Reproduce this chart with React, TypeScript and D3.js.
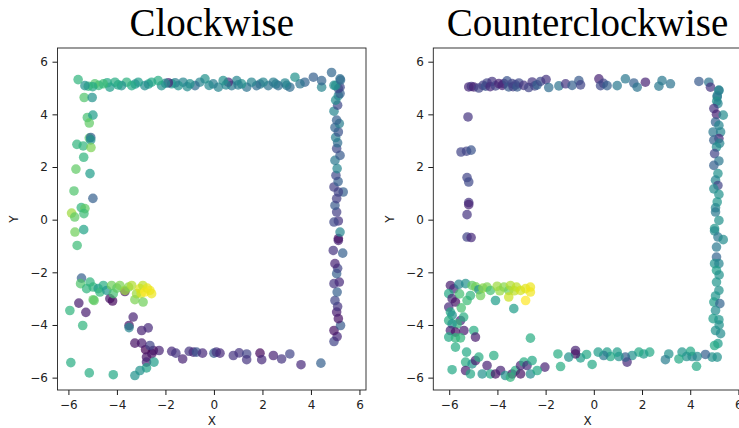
import React, { useEffect, useRef } from "react";
import * as d3 from "d3";

// each point: [x, y, colour value 0..1 on viridis]
const cwInner = [
  [-2.26, -4.97, 0.1], [-2.5, -4.97, 0.05], [-2.56, -5.09, 0.05], [-2.82, -4.94, 0.0],
  [-2.78, -5.22, 0.05], [-2.78, -5.41, 0.1], [-2.64, -4.78, 0.2], [-2.98, -4.69, 0.08],
  [-3.26, -4.69, 0.05], [-2.98, -4.21, 0.1], [-2.71, -4.11, 0.12], [-3.5, -4.02, 0.05],
  [-3.5, -4.1, 0.45], [-3.33, -3.7, 0.1],
  [-4.29, -3.0, 0.05], [-4.18, -3.09, 0.02], [-3.67, -2.73, 0.05], [-5.57, -3.17, 0.08],
  [-5.28, -3.52, 0.08],
];

const cwBottom = [
  [-1.74, -5.0, 0.12], [-1.57, -5.07, 0.15], [-1.29, -5.29, 0.1], [-1.02, -5.0, 0.15],
  [-0.85, -5.03, 0.12], [-0.72, -5.03, 0.25], [-0.47, -5.07, 0.12], [0.0, -5.07, 0.28],
  [0.1, -5.03, 0.15], [0.25, -5.07, 0.12], [0.8, -5.16, 0.15], [1.04, -5.06, 0.15],
  [1.35, -5.1, 0.2], [1.35, -5.32, 0.15], [1.9, -5.07, 0.02], [1.97, -5.32, 0.12],
  [2.45, -5.16, 0.1], [2.79, -5.29, 0.15], [3.13, -5.1, 0.2], [3.59, -5.51, 0.12],
  [4.41, -5.45, 0.3],
];

const cwRight = [
  [4.95, -4.63, 0.2], [5.08, -4.44, 0.12], [4.95, -4.21, 0.05], [5.22, -4.02, 0.28],
  [5.13, -3.76, 0.05], [5.06, -3.51, 0.08], [5.1, -3.3, 0.15], [4.99, -3.07, 0.2],
  [5.08, -2.75, 0.3], [4.95, -2.43, 0.15], [5.17, -2.37, 0.12], [5.06, -2.05, 0.3],
  [5.1, -1.85, 0.2], [4.99, -1.67, 0.1], [5.31, -1.27, 0.3], [4.92, -1.17, 0.15],
  [5.13, -0.79, 0.1], [5.13, -0.72, 0.05], [5.2, -0.47, 0.45], [5.13, -0.05, 0.15],
  [4.95, -0.09, 0.22], [5.06, 0.29, 0.18], [4.99, 0.54, 0.28], [5.06, 0.8, 0.18],
  [5.33, 1.05, 0.3], [5.13, 1.05, 0.2], [4.95, 1.24, 0.18], [5.12, 1.45, 0.3],
  [5.03, 1.68, 0.22], [5.08, 1.94, 0.45], [4.99, 2.25, 0.4], [5.2, 2.44, 0.28],
  [5.06, 2.7, 0.22], [5.1, 2.92, 0.35], [5.02, 3.12, 0.42], [5.13, 3.33, 0.25],
  [4.99, 3.5, 0.32], [5.17, 3.65, 0.42], [5.06, 3.78, 0.3], [4.95, 4.12, 0.45],
  [5.1, 4.35, 0.22], [5.02, 4.54, 0.48], [5.13, 4.71, 0.45], [5.2, 4.79, 0.3],
  [5.13, 4.98, 0.22], [5.2, 5.03, 0.22], [4.95, 5.1, 0.48], [5.02, 5.09, 0.5],
  [5.22, 5.3, 0.35], [5.2, 5.35, 0.35], [4.85, 5.59, 0.33],
];

const cwTop = [
  [4.44, 5.03, 0.45], [4.44, 5.28, 0.32], [4.1, 5.41, 0.3], [3.75, 5.22, 0.32],
  [3.55, 5.16, 0.38], [3.34, 5.41, 0.5], [3.13, 5.03, 0.35], [3.0, 5.1, 0.4],
  [2.93, 5.19, 0.45], [2.65, 5.09, 0.35], [2.55, 5.15, 0.4], [2.45, 5.22, 0.42],
  [2.24, 5.09, 0.38], [2.03, 5.22, 0.45], [1.9, 5.15, 0.42], [1.76, 5.09, 0.35],
  [1.55, 5.22, 0.45], [1.35, 5.03, 0.38], [1.14, 5.16, 0.5], [1.0, 5.12, 0.42],
  [0.94, 5.28, 0.45], [0.73, 5.09, 0.4], [0.59, 5.22, 0.1], [0.5, 5.12, 0.46],
  [0.38, 5.28, 0.5], [0.18, 5.03, 0.45], [-0.03, 5.16, 0.42], [-0.2, 5.1, 0.47],
  [-0.37, 5.35, 0.5], [-0.58, 5.22, 0.45], [-0.78, 5.09, 0.35], [-0.99, 5.16, 0.5],
  [-1.1, 5.05, 0.48], [-1.27, 5.22, 0.45], [-1.47, 5.09, 0.5], [-1.6, 5.2, 0.42],
  [-1.74, 5.16, 0.52], [-1.88, 5.2, 0.1], [-2.0, 5.18, 0.48], [-2.16, 5.09, 0.5],
  [-2.3, 5.28, 0.62], [-2.57, 5.22, 0.6], [-2.7, 5.15, 0.55], [-2.85, 5.09, 0.48],
  [-3.12, 5.22, 0.55], [-3.25, 5.15, 0.52], [-3.39, 5.09, 0.6], [-3.6, 5.22, 0.64],
  [-3.81, 5.09, 0.5], [-3.95, 5.12, 0.58], [-4.08, 5.22, 0.62], [-4.29, 5.03, 0.55],
  [-4.4, 5.2, 0.6], [-4.56, 5.16, 0.68], [-4.75, 5.1, 0.66], [-4.91, 5.16, 0.72],
  [-5.0, 5.05, 0.6], [-5.18, 5.07, 0.65], [-5.32, 5.09, 0.5], [-5.6, 5.32, 0.65],
];

const cwLeft = [
  [-5.35, 4.64, 0.72], [-5.02, 4.64, 0.5], [-5.22, 3.88, 0.7], [-4.99, 3.97, 0.55],
  [-5.14, 3.67, 0.75], [-5.65, 2.86, 0.65], [-5.39, 2.8, 0.65], [-5.14, 3.1, 0.72],
  [-5.08, 3.12, 0.3], [-5.08, 3.03, 0.5], [-5.07, 2.74, 0.8], [-5.37, 2.37, 0.65],
  [-5.69, 1.92, 0.75], [-5.11, 1.75, 0.55], [-5.77, 1.09, 0.72], [-4.99, 0.81, 0.3],
  [-5.87, 0.25, 0.85], [-5.74, 0.1, 0.75], [-5.47, 0.46, 0.65], [-5.32, 0.42, 0.75],
  [-5.36, 0.23, 0.68], [-5.73, -0.47, 0.78], [-5.37, -0.38, 0.58], [-5.64, -0.98, 0.68],
  [-5.94, -3.45, 0.65], [-5.41, -4.02, 0.65],
  [-2.47, -5.41, 0.55], [-2.78, -5.63, 0.58], [-3.05, -5.73, 0.5], [-3.26, -5.92, 0.5],
  [-4.15, -5.89, 0.6], [-5.14, -5.82, 0.62], [-5.9, -5.43, 0.62],
];

const cwBand = [
  [-5.46, -2.22, 0.3], [-5.5, -2.43, 0.72], [-5.11, -2.37, 0.65], [-5.25, -2.62, 0.65],
  [-4.98, -2.56, 0.65], [-4.94, -3.07, 0.75], [-4.98, -3.04, 0.75], [-4.77, -2.62, 0.55],
  [-4.7, -2.75, 0.66], [-4.56, -2.5, 0.62], [-4.42, -2.69, 0.52], [-4.22, -2.5, 0.78],
  [-4.15, -2.81, 0.7], [-4.0, -2.6, 0.75], [-3.88, -2.5, 0.8], [-3.67, -2.69, 0.85],
  [-3.52, -2.56, 0.82], [-3.39, -2.5, 0.88], [-3.26, -3.04, 0.8], [-3.19, -2.81, 0.85],
  [-3.05, -2.62, 0.95], [-3.0, -2.8, 0.93], [-2.93, -2.5, 0.9], [-2.92, -3.13, 0.78],
  [-2.85, -2.75, 1.0], [-2.75, -2.6, 0.96], [-2.64, -2.69, 0.98], [-2.57, -2.81, 0.97],
];

const ccwLeft = [
  [-5.22, 3.9, 0.15], [-5.51, 2.57, 0.2], [-5.28, 2.6, 0.2], [-5.09, 2.64, 0.25],
  [-5.26, 1.6, 0.2], [-5.19, 1.43, 0.22], [-5.19, 0.65, 0.15], [-5.19, 0.57, 0.1],
  [-5.26, 0.19, 0.15], [-5.26, -0.66, 0.2], [-5.09, -0.68, 0.12],
];

const ccwTop = [
  [-5.19, 5.04, 0.12], [-5.08, 5.06, 0.15], [-4.98, 5.04, 0.1], [-4.77, 5.0, 0.2],
  [-4.6, 5.1, 0.18], [-4.49, 5.07, 0.25], [-4.43, 5.19, 0.2], [-4.3, 5.05, 0.12],
  [-4.22, 5.25, 0.15], [-4.08, 5.08, 0.2], [-3.94, 5.17, 0.1], [-3.8, 5.1, 0.1],
  [-3.73, 5.17, 0.12], [-3.6, 5.27, 0.25], [-3.53, 5.04, 0.28], [-3.39, 5.17, 0.2],
  [-3.35, 5.05, 0.18], [-3.25, 5.12, 0.2], [-3.18, 5.04, 0.28], [-3.11, 5.19, 0.22],
  [-2.91, 5.1, 0.15], [-2.7, 5.02, 0.2], [-2.56, 5.23, 0.15], [-2.45, 5.08, 0.2],
  [-2.35, 5.12, 0.3], [-2.21, 5.25, 0.22], [-1.98, 5.32, 0.15], [-1.87, 5.02, 0.35],
  [-1.45, 5.08, 0.38], [-1.17, 5.16, 0.15], [-0.9, 5.1, 0.3], [-0.62, 5.28, 0.28],
  [-0.55, 5.12, 0.2], [0.21, 5.35, 0.1], [0.28, 5.09, 0.22], [0.4, 5.18, 0.2],
  [0.55, 5.09, 0.3], [0.97, 5.09, 0.4], [1.31, 5.35, 0.4], [1.66, 5.19, 0.3],
  [1.8, 5.03, 0.38], [2.14, 5.22, 0.1], [2.7, 5.07, 0.4], [2.83, 5.28, 0.4],
  [3.18, 5.16, 0.38], [4.36, 5.25, 0.28], [4.77, 5.22, 0.38], [4.84, 5.03, 0.15],
];

const ccwRight = [
  [5.19, 4.92, 0.45], [5.19, 4.9, 0.42], [5.12, 4.71, 0.45], [5.12, 4.66, 0.4],
  [5.1, 4.5, 0.5], [5.15, 4.41, 0.45], [4.98, 4.22, 0.15], [5.09, 4.0, 0.1],
  [5.37, 3.97, 0.48], [5.05, 3.71, 0.3], [5.19, 3.58, 0.45], [5.26, 3.33, 0.45],
  [4.95, 3.33, 0.4], [5.19, 3.08, 0.12], [4.98, 3.02, 0.3], [5.22, 2.9, 0.45],
  [5.09, 2.76, 0.48], [5.01, 2.51, 0.2], [5.19, 2.23, 0.4], [4.98, 2.06, 0.3],
  [5.15, 1.75, 0.5], [5.05, 1.5, 0.45], [5.15, 1.3, 0.2], [4.98, 1.17, 0.48],
  [5.19, 0.96, 0.5], [5.12, 0.67, 0.52], [5.05, 0.45, 0.45], [5.05, 0.29, 0.4],
  [5.19, -0.03, 0.5], [5.01, -0.34, 0.52], [5.01, -0.43, 0.48], [5.15, -0.66, 0.4],
  [5.37, -0.76, 0.48], [5.09, -1.04, 0.4], [5.09, -1.42, 0.32], [5.01, -1.67, 0.5],
  [5.19, -1.67, 0.45], [5.09, -1.93, 0.55], [5.2, -2.1, 0.5], [5.09, -2.37, 0.52],
  [5.19, -2.69, 0.5], [5.05, -2.9, 0.52], [4.98, -3.13, 0.55], [5.23, -3.19, 0.32],
  [5.05, -3.45, 0.48], [4.95, -3.76, 0.55], [5.19, -3.8, 0.52], [5.2, -4.0, 0.5],
  [5.05, -4.21, 0.5], [5.26, -4.33, 0.48], [5.15, -4.71, 0.55], [5.01, -4.78, 0.6],
];

const ccwBottom = [
  [5.12, -5.22, 0.5], [4.91, -5.22, 0.5], [4.63, -5.12, 0.3], [4.26, -5.57, 0.6],
  [4.29, -5.2, 0.48], [4.08, -5.2, 0.45], [4.01, -5.0, 0.6], [3.85, -5.2, 0.5],
  [3.66, -5.03, 0.52], [3.53, -5.29, 0.6], [3.11, -5.1, 0.5], [2.97, -5.32, 0.42],
  [2.32, -5.03, 0.6], [2.07, -5.1, 0.55], [1.87, -5.03, 0.6], [1.59, -5.16, 0.5],
  [1.38, -5.41, 0.12], [1.31, -5.22, 0.3], [1.04, -5.2, 0.5], [0.97, -5.03, 0.55],
  [0.69, -5.2, 0.6], [0.55, -5.03, 0.55], [0.41, -5.16, 0.4], [0.18, -5.03, 0.55],
  [-0.07, -5.5, 0.6], [-0.3, -5.12, 0.6], [-0.55, -5.25, 0.55], [-0.76, -4.97, 0.1],
  [-0.76, -5.1, 0.05], [-1.04, -5.22, 0.5], [-1.38, -5.58, 0.62], [-1.49, -5.1, 0.62],
  [-2.03, -5.6, 0.1],
];

const ccwCluster = [
  [-5.95, -2.5, 0.08], [-5.81, -2.63, 0.12], [-6.02, -2.81, 0.6], [-5.88, -3.0, 0.1],
  [-5.74, -3.13, 0.05], [-6.02, -3.32, 0.12], [-5.95, -3.51, 0.6], [-5.88, -3.63, 0.5],
  [-6.02, -3.83, 0.62], [-5.53, -3.83, 0.1], [-5.67, -3.96, 0.65], [-5.88, -3.96, 0.5],
  [-5.95, -4.21, 0.1], [-5.74, -4.27, 0.05], [-5.39, -4.21, 0.08], [-6.02, -4.46, 0.6],
  [-5.74, -4.49, 0.65], [-5.53, -4.49, 0.66], [-4.98, -4.21, 0.62], [-4.91, -4.46, 0.08],
  [-5.74, -4.84, 0.62], [-5.28, -5.03, 0.6], [-5.32, -5.41, 0.62], [-5.05, -5.48, 0.5],
  [-5.32, -5.73, 0.08], [-5.12, -5.86, 0.6], [-5.88, -5.7, 0.6], [-4.91, -5.35, 0.08],
  [-4.77, -5.22, 0.62], [-4.63, -5.86, 0.5], [-4.43, -5.54, 0.1], [-4.15, -5.16, 0.62],
  [-4.29, -5.86, 0.6], [-4.08, -5.86, 0.05], [-3.87, -5.73, 0.1], [-3.67, -5.92, 0.5],
  [-3.39, -5.86, 0.05], [-3.25, -5.73, 0.62], [-3.04, -5.54, 0.1], [-2.9, -5.41, 0.62],
  [-2.77, -5.54, 0.12], [-2.56, -5.35, 0.6], [-2.63, -5.86, 0.48], [-2.35, -5.73, 0.6],
  [-3.04, -5.86, 0.05], [-3.46, -5.98, 0.65], [-2.63, -4.5, 0.62], [-5.57, -2.82, 0.7],
  [-5.26, -3.07, 0.68], [-5.12, -2.88, 0.65], [-5.5, -3.35, 0.7], [-5.4, -3.7, 0.62],
];

const ccwBand = [
  [-5.32, -2.43, 0.5], [-5.6, -2.46, 0.45], [-5.05, -2.5, 0.75], [-4.9, -2.55, 0.78],
  [-4.77, -2.66, 0.5], [-4.7, -2.88, 0.78], [-4.6, -2.6, 0.82], [-4.43, -2.56, 0.8],
  [-4.29, -2.69, 0.7], [-4.08, -3.07, 0.55], [-4.01, -2.53, 0.85], [-3.9, -2.7, 0.84],
  [-3.73, -2.56, 0.82], [-3.53, -2.69, 0.78], [-3.46, -2.5, 0.88], [-3.32, -3.38, 0.55],
  [-3.3, -2.7, 0.9], [-3.21, -2.56, 0.9], [-3.53, -2.94, 0.92], [-3.04, -2.69, 0.93],
  [-2.83, -2.62, 0.95], [-2.63, -2.56, 0.97], [-2.63, -2.75, 0.98], [-2.83, -3.07, 1.0],
];

const tickValues = [-6, -4, -2, 0, 2, 4, 6];

const panels = [
  {
    title: "Clockwise",
    groups: [cwInner, cwBottom, cwRight, cwTop, cwLeft, cwBand],
    left: 57.5,
    xDomain: [-6.45, 6.27],
  },
  {
    title: "Counterclockwise",
    groups: [ccwLeft, ccwTop, ccwRight, ccwBottom, ccwCluster, ccwBand],
    left: 433.3,
    xDomain: [-6.66, 6.14],
  },
];

const App = () => {
  const svgRef = useRef<SVGSVGElement>(null);

  useEffect(() => {
    const plotW = 308.5;
    const top = 48;
    const bottom = 390;
    const color = d3.scaleSequential(d3.interpolateViridis).domain([0, 1]);

    const svg = d3.select(svgRef.current);
    svg.selectAll("*").remove();

    panels.forEach((p, i) => {
      const xScale = d3
        .scaleLinear()
        .domain(p.xDomain)
        .range([p.left, p.left + plotW]);
      const yScale = d3.scaleLinear().domain([-6.47, 6.52]).range([bottom, top]);

      const g = svg.append("g");

      g.append("defs")
        .append("clipPath")
        .attr("id", `clip-${i}`)
        .append("rect")
        .attr("x", p.left)
        .attr("y", top)
        .attr("width", plotW)
        .attr("height", bottom - top);

      const points = p.groups.flat();
      g.append("g")
        .attr("clip-path", `url(#clip-${i})`)
        .selectAll("circle")
        .data(points)
        .enter()
        .append("circle")
        .attr("cx", (d) => xScale(d[0]))
        .attr("cy", (d) => yScale(d[1]))
        .attr("r", 4.8)
        .attr("fill", (d) => color(d[2]))
        .attr("opacity", 0.7);

      const fmt = d3.format("d");

      const xAxis = g
        .append("g")
        .attr("transform", `translate(0,${bottom})`)
        .call(
          d3.axisBottom(xScale).tickValues(tickValues).tickSize(5).tickPadding(5).tickFormat(fmt)
        );
      const yAxis = g
        .append("g")
        .attr("transform", `translate(${p.left},0)`)
        .call(
          d3.axisLeft(yScale).tickValues(tickValues).tickSize(5).tickPadding(4.5).tickFormat(fmt)
        );

      [xAxis, yAxis].forEach((ax) => {
        ax.select(".domain").remove();
        ax.selectAll("line").attr("stroke", "#000").attr("stroke-width", 0.9);
        ax.selectAll("text")
          .attr("fill", "#222")
          .style("font-family", "DejaVu Sans")
          .style("font-size", "12px");
      });

      // frame
      g.append("rect")
        .attr("x", p.left)
        .attr("y", top)
        .attr("width", plotW)
        .attr("height", bottom - top)
        .attr("fill", "none")
        .attr("stroke", "#222")
        .attr("stroke-width", 0.9);

      g.append("text")
        .attr("x", p.left + plotW / 2)
        .attr("y", 425)
        .attr("text-anchor", "middle")
        .attr("fill", "#222")
        .style("font-family", "DejaVu Sans")
        .style("font-size", "12px")
        .text("X");

      g.append("text")
        .attr("transform", `translate(${p.left - 39.5},${(top + bottom) / 2}) rotate(-90)`)
        .attr("text-anchor", "middle")
        .attr("fill", "#222")
        .style("font-family", "DejaVu Sans")
        .style("font-size", "12px")
        .text("Y");

      g.append("text")
        .attr("x", p.left + plotW / 2)
        .attr("y", 36)
        .attr("text-anchor", "middle")
        .attr("fill", "#000")
        .style("font-family", "Liberation Serif")
        .style("font-size", "39px")
        .text(p.title);
    });
  }, []);

  return (
    <svg
      ref={svgRef}
      width={739}
      height={428}
      style={{ position: "absolute", left: 0, top: 0, background: "#fff" }}
    />
  );
};

export default App;
